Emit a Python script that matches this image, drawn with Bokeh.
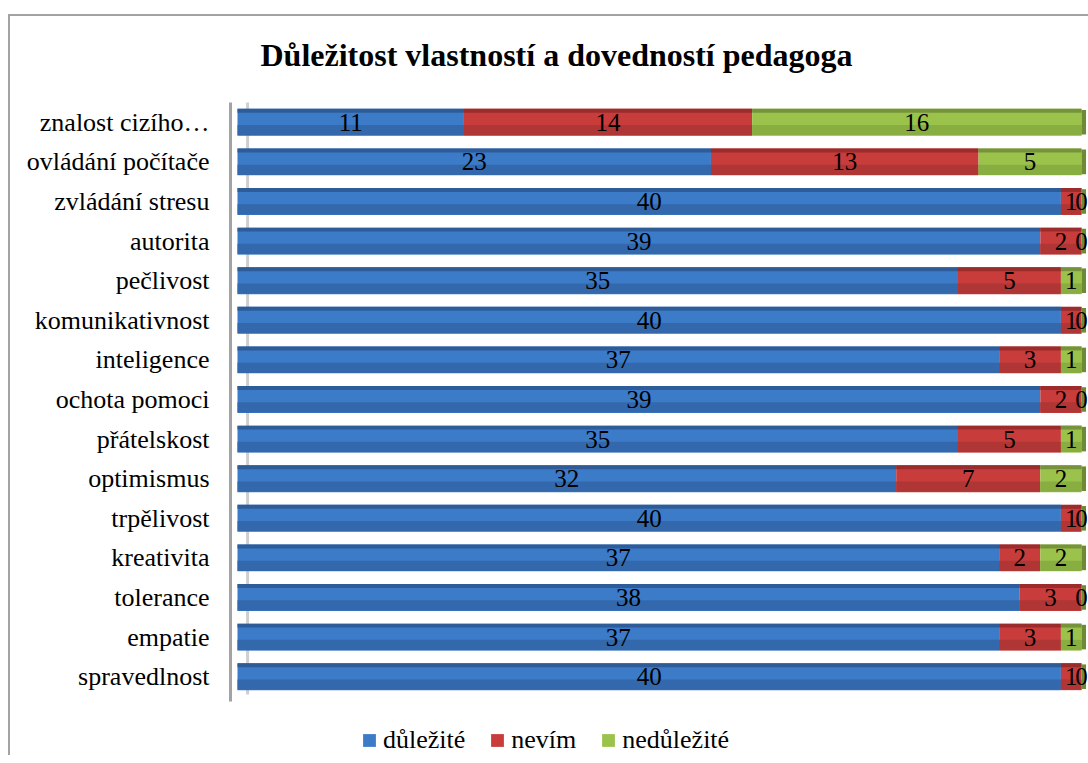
import numpy as np
from bokeh.plotting import figure
from bokeh.models import ColumnDataSource, Legend, LegendItem, FixedTicker
from bokeh.core.properties import value
from bokeh.transform import dodge
from bokeh.embed import file_html
from bokeh.resources import INLINE

title_text = "Důležitost vlastností a dovedností pedagoga"
categories = ["znalost cizího…", "ovládání počítače", "zvládání stresu", "autorita",
              "pečlivost", "komunikativnost", "inteligence", "ochota pomoci",
              "přátelskost", "optimismus", "trpělivost", "kreativita", "tolerance",
              "empatie", "spravedlnost"]
dulezite = [11, 23, 40, 39, 35, 40, 37, 39, 35, 32, 40, 37, 38, 37, 40]
nevim = [14, 13, 1, 2, 5, 1, 3, 2, 5, 7, 1, 2, 3, 3, 1]
nedulezite = [16, 5, 0, 0, 1, 0, 1, 0, 1, 2, 0, 2, 0, 1, 0]
series_names = ["důležité", "nevím", "nedůležité"]

body_colors = ["#3B7BC8", "#C83C3B", "#9BC34B"]
top_colors = ["#2E5C98", "#9A2D2C", "#76933C"]
low_colors = ["#3369AC", "#B03535", "#88AD41"]
FONT = "Liberation Serif"
FRAME_LINE = "#a3a3a3"

n = len(categories)
ypos = list(range(n - 1, -1, -1))  # first category at top

W, H = 1080, 747
p = figure(width=W, height=H, x_range=(-0.34, 41.34), y_range=(-1.99, 14.5),
           output_backend="svg", toolbar_location=None,
           min_border_left=222, min_border_right=0, min_border_top=94, min_border_bottom=0,
           title=title_text)
# chart-area border (left and top edge, 6px below the canvas top)
p.styles = {"margin-left": "8px", "margin-top": "8px",
            "background": (f"linear-gradient({FRAME_LINE},{FRAME_LINE}) 0 6px / 100% 2px no-repeat, "
                           f"linear-gradient({FRAME_LINE},{FRAME_LINE}) 0 6px / 2px 100% no-repeat, white")}
p.border_fill_alpha = 0

p.title.text_font = FONT
p.title.text_font_size = "32px"
p.title.text_font_style = "bold"
p.title.text_color = "black"
p.title.align = "left"
p.title.vertical_align = "top"
p.title.offset = 30
p.title.standoff = 55

p.xaxis.visible = False
p.xgrid.visible = False
p.ygrid.visible = False
p.outline_line_color = None
p.background_fill_color = "white"

ax = p.yaxis[0]
ax.ticker = FixedTicker(ticks=ypos)
ax.major_label_overrides = {y: c for y, c in zip(ypos, categories)}
ax.bounds = (-0.62, 14.5)
ax.major_tick_line_color = None
ax.minor_tick_line_color = None
ax.major_label_text_font = FONT
ax.major_label_text_font_size = "26px"
ax.major_label_text_color = "black"
ax.major_label_standoff = 15
ax.axis_line_color = FRAME_LINE
ax.axis_line_width = 3

vals = [np.array(dulezite), np.array(nevim), np.array(nedulezite)]
lefts = [np.zeros(n), vals[0].astype(float), (vals[0] + vals[1]).astype(float)]
total = vals[0] + vals[1] + vals[2]

# inner (back) wall line, under the bars
wall_src = ColumnDataSource(dict(x=[0.49, 0.49], y=[-0.45, 14.8]))
p.line(x="x", y="y", source=wall_src, line_color="#cfcfcf", line_width=3)

legend_items = []
sources = []
for i, name in enumerate(series_names):
    src = ColumnDataSource(dict(y=ypos, left=lefts[i], right=lefts[i] + vals[i],
                                mid=lefts[i] + vals[i] / 2.0,
                                label=[str(v) for v in vals[i]]))
    r = p.hbar(y="y", left="left", right="right", height=0.68, source=src,
               fill_color=body_colors[i], line_color=None)
    p.hbar(y=dodge("y", -0.2), left="left", right="right", height=0.26,
           source=src, fill_color=low_colors[i], line_color=None)
    p.hbar(y=dodge("y", 0.29), left="left", right="right", height=0.1,
           source=src, fill_color=top_colors[i], line_color=None)
    legend_items.append(LegendItem(label=name, renderers=[r]))
    sources.append(src)

# 3D side face at the end of each bar
side = ColumnDataSource(dict(y=ypos, left=total.astype(float), right=total + 0.22))
p.hbar(y="y", left="left", right="right", height=0.62, source=side,
       fill_color="#6E8A34", line_color=None)

for src in sources:
    p.text(x="mid", y="y", text="label", source=src,
           text_align="center", text_baseline="middle", text_font=value(FONT),
           text_font_size="25px", text_color="black")

legend = Legend(items=legend_items, orientation="horizontal", location=(131, 0))
legend.label_text_font = FONT
legend.label_text_font_size = "26px"
legend.label_text_color = "black"
legend.glyph_width = 16
legend.glyph_height = 16
legend.label_standoff = 6
legend.spacing = 24
legend.padding = 0
legend.margin = 0
legend.border_line_color = None
legend.background_fill_alpha = 0
p.add_layout(legend, "center")

open("out.html", "w").write(file_html(p, INLINE))
